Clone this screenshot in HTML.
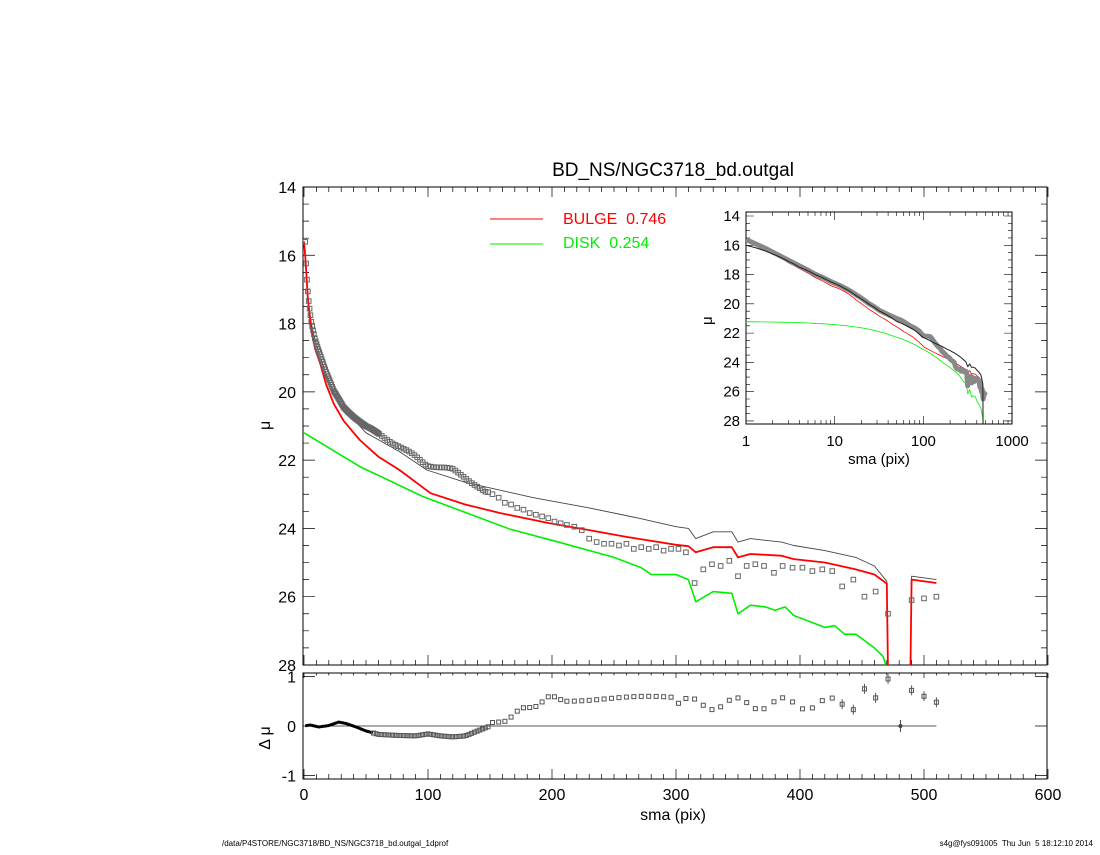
<!DOCTYPE html>
<html><head><meta charset="utf-8"><style>
body{margin:0;background:#fff;width:1100px;height:850px;overflow:hidden}
svg text{font-family:"Liberation Sans",sans-serif;white-space:pre}
</style></head><body>
<svg id="s" width="1100" height="850" xmlns="http://www.w3.org/2000/svg"></svg>
<script>
const S=document.getElementById('s');let h='';
const X=v=>304+v*1.24, Y=m=>187+(m-14)*34.14, R=d=>726-d*49.5;
function pl(pts,c,w,fx,fy){return '<polyline fill="none" stroke="'+c+'" stroke-width="'+w+'" stroke-linejoin="round" points="'+pts.map(p=>fx(p[0]).toFixed(1)+','+fy(p[1]).toFixed(1)).join(' ')+'"/>';}
function interp(a,x){if(x<=a[0][0])return a[0][1];for(let i=1;i<a.length;i++)if(x<=a[i][0]){const t=(x-a[i-1][0])/(a[i][0]-a[i-1][0]);return a[i-1][1]+t*(a[i][1]-a[i-1][1]);}return a[a.length-1][1];}
const bul=[[0,15.6],[1,16.0],[2,16.6],[3,17.2],[4,17.6],[6,18.2],[9,18.75],[13,19.16],[18,19.8],[24,20.35],[32,20.85],[45,21.41],[60,21.9],[77,22.29],[102,22.97],[130,23.3],[158,23.55],[198,23.85],[230,24.05],[260,24.25],[300,24.48],[310,24.52],[316,24.7],[330,24.55],[345,24.55],[350,24.85],[360,24.75],[385,24.8],[395,24.9],[420,25.0],[445,25.2],[460,25.35],[470,25.62],[471,28.2]];
const bul2=[[489,28.2],[490,25.5],[510,25.6]];
const tot=[[0,15.6],[1,16.0],[2,16.6],[3,17.1],[4,17.5],[6,18.0],[9,18.5],[13,18.95],[18,19.5],[24,20.0],[32,20.5],[50,21.2],[77,21.75],[99,22.29],[130,22.65],[185,23.1],[230,23.4],[270,23.7],[300,23.95],[310,24.0],[316,24.3],[330,24.1],[345,24.1],[350,24.4],[360,24.3],[385,24.4],[395,24.5],[420,24.65],[445,24.85],[460,25.1],[470,25.55],[471,28.2]];
const tot2=[[489,28.2],[490,25.4],[510,25.5]];
const dsk=[[0,21.2],[45,22.19],[96,23.07],[166,24.02],[200,24.35],[250,24.85],[272,25.15],[280,25.35],[300,25.35],[310,25.5],[316,26.15],[330,25.85],[345,25.9],[350,26.5],[360,26.25],[372,26.3],[380,26.4],[388,26.3],[395,26.55],[420,26.9],[428,26.85],[436,27.1],[445,27.1],[460,27.5],[467,27.75],[471,28.2]];
const dA=[[1,15.6],[2,16.5],[3,17.0],[4,17.4],[6,17.95],[9,18.45],[13,18.9],[18,19.45],[24,20.0],[32,20.45],[50,21.02],[77,21.6],[90,21.9],[99,22.14],[120,22.28],[130,22.5],[147,22.97]];
let dat=[];
for(let x=1;x<150;x+=x<60?0.7:2.2){dat.push([x,interp(dA,x)+0.03*Math.sin(x/5)]);}
const tail=[[152,23.0],[157,23.1],[162,23.25],[167,23.3],[172,23.4],[177,23.45],[182,23.55],[187,23.6],[192,23.65],[197,23.7],[202,23.8],[207,23.85],[212,23.9],[218,23.95],[224,24.05],[230,24.3],[236,24.4],[242,24.45],[248,24.45],[254,24.5],[260,24.45],[266,24.6],[272,24.55],[278,24.6],[284,24.55],[290,24.65],[296,24.6],[302,24.6],[308,24.7],[315,25.6],[322,25.2],[329,25.05],[336,25.1],[343,24.95],[350,25.4],[357,25.1],[364,25.05],[371,25.1],[379,25.3],[386,25.1],[394,25.15],[402,25.15],[410,25.25],[418,25.2],[426,25.25],[434,25.7],[443,25.5],[452,26.0],[461,25.85],[471,26.5],[490,26.1],[500,26.05],[510,26.0]];
dat=dat.concat(tail);
h+='<text x="673" y="176" font-size="19" text-anchor="middle">BD_NS/NGC3718_bd.outgal</text>';
h+='<rect x="303" y="187" width="744" height="478" fill="none" stroke="#000" stroke-width="1"/>';
h+='<rect x="303" y="673" width="744" height="106" fill="none" stroke="#000" stroke-width="1"/>';
for(let v=0;v<=600;v+=10){const L=v%100==0?10:5;const x=X(v);h+='<path d="M'+x+' 187v'+L+'M'+x+' 665v-'+L+'M'+x+' 673v'+(L/2)+'M'+x+' 779v-'+L+'" stroke="#000" stroke-width="0.7"/>';if(v%100==0)h+='<text x="'+x+'" y="800" font-size="16" text-anchor="middle">'+v+'</text>';}
for(let m=14;m<=28;m+=0.5){const L=m%2==0?12:6;const y=Y(m);h+='<path d="M303 '+y+'h'+L+'M1047 '+y+'h-'+L+'" stroke="#000" stroke-width="0.7"/>';if(m%2==0)h+='<text x="296" y="'+(y+6)+'" font-size="16" text-anchor="end">'+m+'</text>';}
for(const d of [-1,0,1]){const y=R(d);h+='<path d="M303 '+y+'h12M1047 '+y+'h-12" stroke="#000" stroke-width="0.7"/><text x="296" y="'+(y+6)+'" font-size="16" text-anchor="end">'+d+'</text>';}
h+='<text x="673" y="820" font-size="16" text-anchor="middle">sma (pix)</text>';
h+='<text x="270" y="430" font-size="16" transform="rotate(-90 270 430)">μ</text>';
h+='<text x="270" y="738" font-size="16" transform="rotate(-90 270 738)" text-anchor="middle">Δ μ</text>';
h+='<path d="M490 219h53" stroke="red"/><text x="563" y="224" font-size="16" fill="red">BULGE  0.746</text>';
h+='<path d="M490 244h53" stroke="#0e0"/><text x="563" y="248" font-size="16" fill="#0e0">DISK  0.254</text>';
h+='<text x="222" y="846" font-size="8">/data/P4STORE/NGC3718/BD_NS/NGC3718_bd.outgal_1dprof</text>';
h+='<text x="1093" y="846" font-size="8" text-anchor="end">s4g@fys091005  Thu Jun  5 18:12:10 2014</text>';
h+='<defs><clipPath id="c1"><rect x="303" y="187" width="744" height="478"/></clipPath><clipPath id="c2"><rect x="746" y="212" width="266" height="212"/></clipPath></defs>';
h+='<g clip-path="url(#c1)">';
h+=pl(dsk,'#0e0',1.6,X,Y);
h+=pl(tot,'#444',0.9,X,Y)+pl(tot2,'#444',0.9,X,Y);
h+=pl(bul,'red',1.8,X,Y)+pl(bul2,'red',1.8,X,Y);
for(const p of dat){h+='<rect x="'+(X(p[0])-2.3)+'" y="'+(Y(p[1])-2.3)+'" width="4.6" height="4.6" fill="none" stroke="#666" stroke-width="1"/>';}
h+='</g>';
h+='<path d="M'+X(0)+' 726H'+X(510)+'" stroke="#555" stroke-width="1"/>';
const rA=[[0,0],[5,0.02],[12,-0.02],[20,0.01],[28,0.08],[34,0.05],[42,-0.02],[50,-0.1],[60,-0.17],[75,-0.19],[90,-0.2],[100,-0.16],[110,-0.2],[120,-0.22],[130,-0.2],[140,-0.1],[150,0.0]];
function res(d){if(d<150)return interp(rA,d);return Math.min(0.55,(d-150)*0.012);}
let rl=[];for(let d=1;d<56;d+=0.5)rl.push([d,res(d)]);h+=pl(rl,'#000',3,X,R);
for(let d=56;d<150;d+=2.2)h+='<rect x="'+(X(d)-2)+'" y="'+(R(res(d))-2)+'" width="4" height="4" fill="none" stroke="#555"/>';
for(const p of tail){let v=Math.min(0.55,(p[0]-150)*0.012)+0.05*Math.sin(p[0]);if(p[0]>300)v=0.45+0.12*Math.sin(p[0]/6);if(p[0]==471)v=0.95;if(p[0]==452)v=0.75;if(p[0]==490)v=0.72;if(p[0]==500)v=0.6;if(p[0]==510)v=0.48;h+='<rect x="'+(X(p[0])-2)+'" y="'+(R(v)-2)+'" width="4" height="4" fill="none" stroke="#555"/>';if(p[0]>430)h+='<path d="M'+X(p[0])+' '+(R(v)-5)+'v10" stroke="#555"/>';}
h+='<circle cx="'+X(481)+'" cy="726" r="2" fill="#444"/><path d="M'+X(481)+' 720v12" stroke="#444"/>';
const IX=v=>746+Math.log10(Math.max(v,0.5))*88.7, IY=m=>216+(m-14)*14.64;
h+='<rect x="746" y="212" width="266" height="212" fill="#fff" stroke="#000"/>';
for(let dec=0;dec<3;dec++)for(let k=1;k<10;k++){const x=IX(k*Math.pow(10,dec));const L=k==1?8:4;h+='<path d="M'+x+' 212v'+L+'M'+x+' 424v-'+L+'" stroke="#000" stroke-width="0.6"/>';}
[1,10,100,1000].forEach(v=>{h+='<text x="'+IX(v)+'" y="446" font-size="15" text-anchor="middle">'+v+'</text>';});
for(let m=14;m<=28;m+=0.5){const y=IY(m);const L=m%2==0?8:4;h+='<path d="M746 '+y+'h'+L+'M1012 '+y+'h-'+L+'" stroke="#000" stroke-width="0.6"/>';if(m%2==0)h+='<text x="740" y="'+(y+5)+'" font-size="15" text-anchor="end">'+m+'</text>';}
h+='<text x="879" y="464" font-size="15" text-anchor="middle">sma (pix)</text><text x="712" y="325" font-size="15" transform="rotate(-90 712 325)">μ</text>';
h+='<g clip-path="url(#c2)">';
const ib=[],idk=[],it=[];
for(let x=1;x<=471;x*=1.05){ib.push([x,interp(bul,x)]);idk.push([x,interp(dsk,x)]);it.push([x,interp(tot,x)]);}
ib.push([471,28.5]);idk.push([471,28.5]);it.push([471,28.5]);
h+=pl(idk,'#0e0',0.8,IX,IY)+pl(ib,'red',0.8,IX,IY);
h+=pl(dat,'#888',5,IX,IY)+pl(it,'#222',1,IX,IY);
h+='</g>';
S.innerHTML=h;
</script>
</body></html>
